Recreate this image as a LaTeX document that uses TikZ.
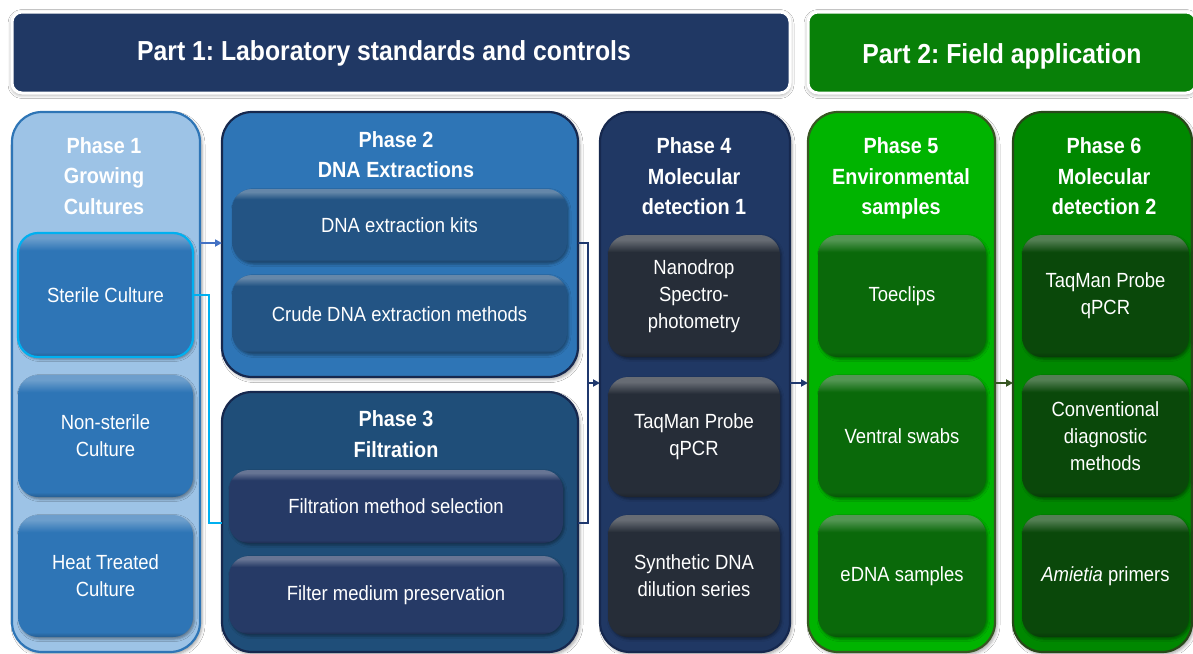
\documentclass[tikz,border=0pt]{standalone}
\usepackage{fontspec}
\setmainfont[FakeStretch=0.9]{Liberation Sans}
\usetikzlibrary{shadows.blur,arrows.meta}
\frenchspacing

\definecolor{navy}{RGB}{32,56,100}
\definecolor{navyD}{RGB}{22,40,78}
\definecolor{hgreen}{RGB}{8,128,8}
\definecolor{p1fill}{RGB}{157,195,230}
\definecolor{p1line}{RGB}{46,117,182}
\definecolor{p1box}{RGB}{46,117,182}
\definecolor{cyanl}{RGB}{0,176,240}
\definecolor{p2fill}{RGB}{46,117,182}
\definecolor{p2box}{RGB}{35,84,132}
\definecolor{p3fill}{RGB}{31,78,121}
\definecolor{p3box}{RGB}{38,58,102}
\definecolor{p4fill}{RGB}{32,56,100}
\definecolor{p4box}{RGB}{38,45,56}
\definecolor{p5fill}{RGB}{0,180,0}
\definecolor{p5line}{RGB}{56,87,35}
\definecolor{p5box}{RGB}{10,105,10}
\definecolor{p6fill}{RGB}{0,136,0}
\definecolor{p6line}{RGB}{40,72,26}
\definecolor{p6box}{RGB}{10,72,10}
\definecolor{arrblue}{RGB}{68,114,196}
\definecolor{arrnavy}{RGB}{31,56,110}
\definecolor{arrgreen}{RGB}{56,87,35}

\pgfdeclareverticalshading[bvbase,bvlight,bvdark]{bevel}{100bp}{%
  color(0bp)=(bvdark); color(25bp)=(bvdark); color(27bp)=(bvbase);
  color(68bp)=(bvbase); color(73bp)=(bvlight); color(75bp)=(bvlight); color(100bp)=(bvlight)}

\newcommand\bodyfont{\fontsize{20.5}{27}\selectfont}
\newcommand\titlefont{\fontsize{22}{30.5}\selectfont\bfseries}
\newcommand\headfont{\fontsize{27.5}{30}\selectfont\bfseries}

\newcommand\rbox[7]{\node[#1, minimum width={#5-#3}, minimum height={#6-#4}] (#2) at ({(#3+#5)/2},{(#4+#6)/2}) {#7};}

\begin{document}
\begin{tikzpicture}[x=1pt,y=-1pt,
  every node/.style={inner sep=0pt, outer sep=0pt},
  hdr/.style={rounded corners=10, draw=white, line width=3,
    blur shadow={shadow xshift=0pt, shadow yshift=-1.5pt, shadow blur radius=4pt, shadow opacity=45}},
  container/.style={rounded corners=30, line width=2.2,
    blur shadow={shadow xshift=2pt, shadow yshift=-2.5pt, shadow blur radius=3pt, shadow opacity=35}},
  inbox/.style={rounded corners=20, text=white, align=center, font=\bodyfont,
    shading=bevel,
    /utils/exec={\colorlet{bvbase}{#1}\colorlet{bvlight}{#1!70!white}\colorlet{bvdark}{#1!80!black}},
    blur shadow={shadow xshift=1.5pt, shadow yshift=-2pt, shadow blur radius=2.5pt, shadow opacity=40}},
  ptitle/.style={text=white, align=center, font=\titlefont, anchor=base},
  htext/.style={text=white, font=\headfont, anchor=base},
  arr/.style={line width=1.8, -{Triangle[length=7pt,width=7pt]}},
  conn/.style={line width=1.8}
]
\useasboundingbox (0,0) rectangle (1193,653);
\fill[white] (0,0) rectangle (1193,653);

% headers
\rbox{hdr, fill=navy}{part1}{12}{12}{790}{93}{}
\node[htext] (part1t) at (384,60) {Part 1: Laboratory standards and controls};
\rbox{hdr, fill=hgreen}{part2}{808}{12}{1196}{93}{}
\node[htext] (part2t) at (1002,63) {Part 2: Field application};

% containers
\rbox{container, fill=p1fill, draw=p1line}{phase1}{12}{112}{200}{652}{}
\rbox{container, fill=p2fill, draw=navyD}{phase2}{222}{112}{578}{377}{}
\rbox{container, fill=p3fill, draw=navyD}{phase3}{222}{392}{578}{652}{}
\rbox{container, fill=p4fill, draw=navyD}{phase4}{600}{112}{790}{652}{}
\rbox{container, fill=p5fill, draw=p5line}{phase5}{808}{112}{995}{652}{}
\rbox{container, fill=p6fill, draw=p6line}{phase6}{1013}{112}{1192}{652}{}

% titles (anchor = baseline of last line)
\node[ptitle] (t1) at (104,214) {Phase 1\\Growing\\Cultures};
\node[ptitle] (t2) at (396,177.5) {Phase 2\\DNA Extractions};
\node[ptitle] (t3) at (396,457) {Phase 3\\Filtration};
\node[ptitle] (t4) at (694,214.5) {Phase 4\\Molecular\\detection 1};
\node[ptitle] (t5) at (901,214.5) {Phase 5\\Environmental\\samples};
\node[ptitle] (t6) at (1104,214.5) {Phase 6\\Molecular\\detection 2};

% phase 1 boxes
\rbox{inbox=p1box, draw=cyanl, line width=2.2}{sterile}{18}{233}{193}{357}{Sterile Culture}
\rbox{inbox=p1box}{nonsterile}{18}{375}{193}{497}{Non-sterile\\Culture}
\rbox{inbox=p1box}{heat}{18}{515}{193}{637}{Heat Treated\\Culture}
% phase 2 boxes
\rbox{inbox=p2box}{kits}{232}{189}{567}{262}{DNA extraction kits}
\rbox{inbox=p2box}{crude}{232}{275}{567}{353}{Crude DNA extraction methods}
% phase 3 boxes
\rbox{inbox=p3box}{filt}{229}{470}{563}{543}{Filtration method selection}
\rbox{inbox=p3box}{filtmed}{229}{556}{563}{634}{Filter medium preservation}
% phase 4 boxes
\rbox{inbox=p4box}{nano}{608}{235}{780}{357}{Nanodrop\\Spectro-\\photometry}
\rbox{inbox=p4box}{taqa}{608}{377}{780}{497}{TaqMan Probe\\qPCR}
\rbox{inbox=p4box}{synth}{608}{515}{780}{637}{Synthetic DNA\\dilution series}
% phase 5 boxes
\rbox{inbox=p5box}{toe}{818}{235}{986}{357}{Toeclips}
\rbox{inbox=p5box}{ventral}{818}{375}{986}{497}{Ventral swabs}
\rbox{inbox=p5box}{edna}{818}{515}{986}{637}{eDNA samples}
% phase 6 boxes
\rbox{inbox=p6box}{taqb}{1022}{235}{1189}{357}{TaqMan Probe\\qPCR}
\rbox{inbox=p6box}{conv}{1022}{375}{1189}{497}{Conventional\\diagnostic\\methods}
\rbox{inbox=p6box}{ami}{1022}{515}{1189}{637}{{\itshape Amietia} primers}

% connector helpers
\coordinate (ya) at (0,243);
\coordinate (yb) at (0,523);
\coordinate (ym) at (0,383);
\coordinate (xc) at (209,0);
\coordinate (xn) at (588,0);

\draw[arr, arrblue] (phase1.east |- ya) -- (phase2.west |- ya);
\draw[conn, cyanl] (sterile.east) -- (xc |- sterile.east) -- (xc |- yb) -- (phase3.west |- yb);
\draw[conn, arrnavy] (phase2.east |- ya) -- (xn |- ya) -- (xn |- yb) -- (phase3.east |- yb);
\draw[arr, arrnavy] (xn |- ym) -- (phase4.west |- ym);
\draw[arr, arrnavy] (phase4.east |- ym) -- (phase5.west |- ym);
\draw[arr, arrgreen] (phase5.east |- ym) -- (phase6.west |- ym);
\end{tikzpicture}
\end{document}
